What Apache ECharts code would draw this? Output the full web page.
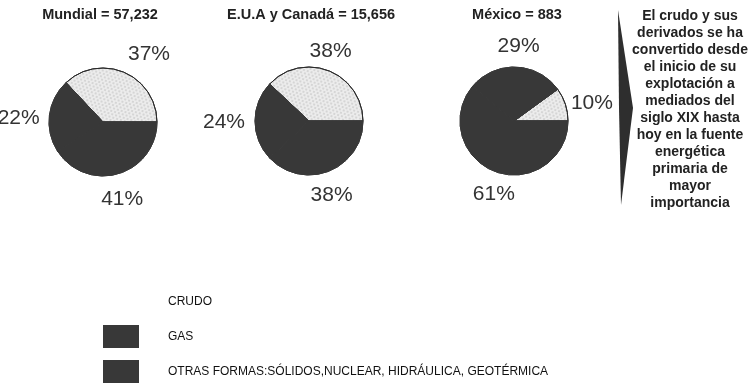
<!DOCTYPE html>
<html>
<head>
<meta charset="utf-8">
<script src="https://cdn.jsdelivr.net/npm/echarts@6/dist/echarts.min.js"></script>
<style>
html,body{margin:0;padding:0;background:#fff;}
#c{width:750px;height:385px;}
</style>
</head>
<body>
<div id="c"></div>
<script>
var categories = ['CRUDO', 'GAS', 'OTRAS FORMAS:SÓLIDOS,NUCLEAR, HIDRÁULICA, GEOTÉRMICA'];
var regions = ['Mundial = 57,232', 'E.U.A y Canadá = 15,656', 'México = 883'];
var mundial = [37, 22, 41];
var euaCanada = [38, 24, 38];
var mexico = [10, 29, 61];
var noteLines = ['El crudo y sus', 'derivados se ha', 'convertido desde', 'el inicio de su',
  'explotación a', 'mediados del', 'siglo XIX hasta', 'hoy en la fuente',
  'energética', 'primaria de', 'mayor', 'importancia'];

// styling / layout (not data)
var colors = ['#ececec', '#383838', '#383838'];
var font = '"Liberation Sans", Arial, sans-serif';
var centers = [[103, 122], [309, 121], [514, 121]];
var titleX = [95, 306, 512];
var labelNudge = [
  [[13, 8], [-2, 7], [-4, -3]],
  [[-9, 7], [-2, 1], [-8, -3]],
  [[-1, 8], [2, 8], [8, -5]]
];
var allValues = [mundial, euaCanada, mexico];

var chart = echarts.init(document.getElementById('c'));

var noDecal = { symbol: 'rect', color: 'rgba(0,0,0,0)', dashArrayX: 5, dashArrayY: 5 };
var dotDecal = { symbol: 'circle', symbolSize: 0.7, color: 'rgba(60,60,60,0.35)',
  dashArrayX: [[2, 2], [0, 2, 2, 0]], dashArrayY: [2, 1], rotation: 0.3 };

function pieData(vals) {
  return vals.map(function (v, i) {
    var isCrude = i === 0;
    return { name: categories[i], value: v,
      itemStyle: { color: colors[i], borderColor: isCrude ? '#2a2a2a' : colors[i],
        borderWidth: 1, decal: isCrude ? dotDecal : noDecal } };
  });
}

var series = [];
allValues.forEach(function (vals, k) {
  series.push({
    type: 'pie', center: centers[k], radius: [0, 54],
    startAngle: 0, clockwise: false, silent: true, animation: false,
    label: { show: false }, labelLine: { show: false },
    data: pieData(vals)
  });
  series.push({
    type: 'pie', center: centers[k], radius: [56, 104],
    startAngle: 0, clockwise: false, silent: true, animation: false,
    legendHoverLink: false,
    itemStyle: { color: 'rgba(0,0,0,0)', borderWidth: 0, decal: noDecal },
    label: { show: true, position: 'inside', formatter: '{c}%', color: '#333',
      fontFamily: font, fontSize: 21 },
    labelLine: { show: false },
    labelLayout: (function (kk) {
      return function (p) {
        var n = labelNudge[kk][p.dataIndex];
        return { dx: n[0], dy: n[1] };
      };
    })(k),
    data: vals.map(function (v, i) { return { name: categories[i] + ' ', value: v }; })
  });
});

var titles = regions.map(function (t, k) {
  return { text: t, left: titleX[k], top: 2, textAlign: 'center',
    textStyle: { fontFamily: font, fontWeight: 'bold', fontSize: 14.5, color: '#222' } };
});
titles.push({ text: noteLines.join('\n'), left: 685, top: 3, textAlign: 'center',
  textStyle: { fontFamily: font, fontWeight: 'bold', fontSize: 14, lineHeight: 17, color: '#222' } });

chart.setOption({
  animation: false,
  aria: { enabled: true, decal: { show: true } },
  title: titles,
  legend: {
    orient: 'vertical', left: 103, top: 290, padding: 0,
    itemWidth: 36, itemHeight: 23, itemGap: 12,
    selectedMode: false,
    textStyle: { fontFamily: font, fontSize: 12, color: '#111', padding: [0, 0, 0, 24] },
    data: [
      { name: categories[0], icon: 'rect', itemStyle: { color: '#fff', borderWidth: 0, decal: noDecal } },
      { name: categories[1], icon: 'rect', itemStyle: { color: '#383838', borderWidth: 0, decal: noDecal } },
      { name: categories[2], icon: 'rect', itemStyle: { color: '#383838', borderWidth: 0, decal: noDecal } }
    ]
  },
  graphic: [{
    type: 'polygon', silent: true,
    shape: { points: [[618, 10], [633, 108], [621, 205], [619, 108]] },
    style: { fill: '#2e2e2e' }
  }],
  series: series
});
</script>
</body>
</html>
